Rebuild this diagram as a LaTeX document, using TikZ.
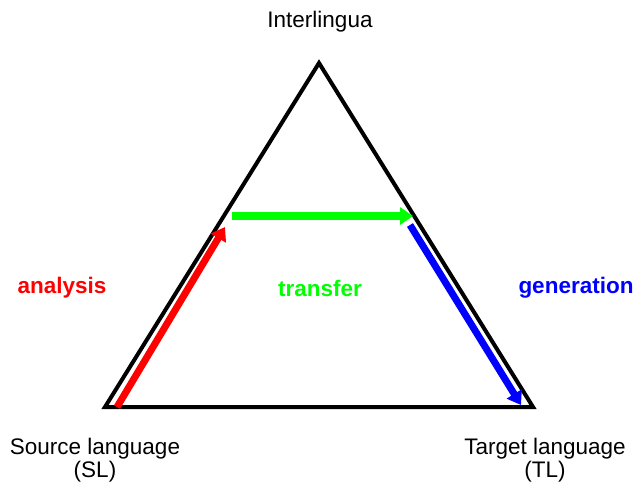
\documentclass[tikz,border=0pt]{standalone}
\usepackage{fontspec}
\setmainfont{Liberation Sans}
\usetikzlibrary{arrows.meta}
\definecolor{cred}{RGB}{255,0,0}
\definecolor{cgreen}{RGB}{0,255,0}
\definecolor{cblue}{RGB}{0,0,255}
\begin{document}
\begin{tikzpicture}[x=1pt,y=-1pt,
  lbl/.style={font=\fontsize{22.5}{23.5}\selectfont, align=center, inner sep=0pt},
  blbl/.style={lbl, font=\fontsize{22.5}{23.5}\selectfont\bfseries},
  tri/.style={line width=4pt, line join=miter},
  arr/.style={line width=7pt, -{Triangle[length=13pt,width=17pt]}}]
\useasboundingbox (0,0) rectangle (636,485);
\coordinate (top) at (319,63);
\coordinate (bl) at (105,407);
\coordinate (br) at (533,407);
\draw[tri] (top) -- (br) -- (bl) -- cycle;
\node[lbl] (il) at (320,22) {Interlingua};
\node[lbl] (sl) at (95,460) {Source language\\(SL)};
\node[lbl] (tl) at (545,460) {Target language\\(TL)};
\node[blbl, text=cred] (an) at (62,288) {analysis};
\node[blbl, text=cgreen] (tr) at (320,288) {transfer};
\node[blbl, text=cblue] (ge) at (576,288) {generation};
\coordinate (r1) at (117,407);
\coordinate (r2) at (225,227);
\coordinate (g1) at (232,216);
\coordinate (g2) at (413,216);
\coordinate (b1) at (410,225);
\coordinate (b2) at (521,405);
\draw[arr, cred] (r1) -- (r2);
\draw[arr, cgreen, line width=8pt] (g1) -- (g2);
\draw[arr, cblue] (b1) -- (b2);
\end{tikzpicture}
\end{document}
